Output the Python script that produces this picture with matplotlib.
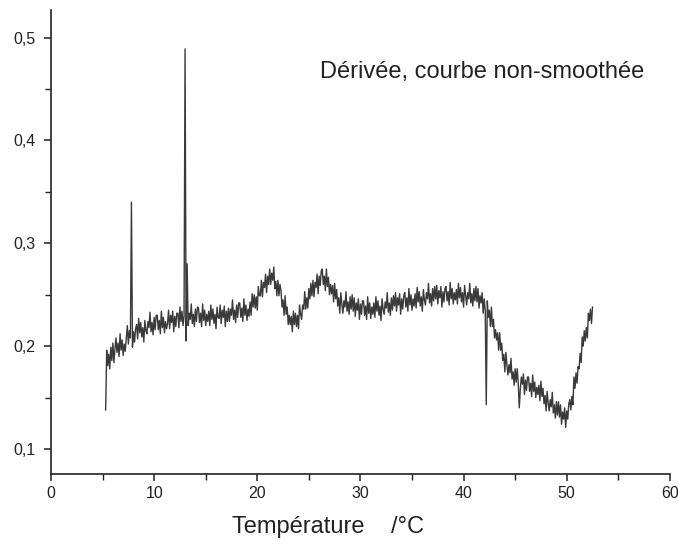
import numpy as np
import matplotlib
matplotlib.use("Agg")
import matplotlib.pyplot as plt
from matplotlib.ticker import MultipleLocator

# temperature grid: starts at 5.3 degC, one reading every 0.1 degC
t_start = 5.3
t_step = 0.1

# derivative readings (non-smoothed), one row = 1 degC
deriv = [
    0.138, 0.196, 0.181, 0.192, 0.178, 0.199, 0.186, 0.203, 0.184, 0.197,  # 5.3
    0.208, 0.194, 0.203, 0.190, 0.212, 0.196, 0.206, 0.191, 0.202, 0.195,  # 6.3
    0.207, 0.220, 0.202, 0.215, 0.208, 0.340, 0.199, 0.214, 0.204, 0.217,  # 7.3
    0.221, 0.207, 0.227, 0.213, 0.223, 0.209, 0.218, 0.204, 0.225, 0.215,  # 8.3
    0.212, 0.224, 0.218, 0.233, 0.214, 0.223, 0.211, 0.228, 0.216, 0.230,  # 9.3
    0.230, 0.216, 0.225, 0.212, 0.234, 0.218, 0.228, 0.213, 0.224, 0.217,  # 10.3
    0.222, 0.235, 0.217, 0.230, 0.223, 0.234, 0.214, 0.229, 0.219, 0.232,  # 11.3
    0.232, 0.218, 0.238, 0.224, 0.234, 0.220, 0.229, 0.489, 0.205, 0.280,  # 12.3
    0.220, 0.232, 0.226, 0.241, 0.222, 0.231, 0.219, 0.236, 0.224, 0.238,  # 13.3
    0.237, 0.223, 0.232, 0.219, 0.241, 0.225, 0.235, 0.220, 0.231, 0.224,  # 14.3
    0.234, 0.220, 0.240, 0.226, 0.236, 0.222, 0.231, 0.217, 0.238, 0.228,  # 15.3
    0.227, 0.240, 0.222, 0.235, 0.228, 0.239, 0.219, 0.234, 0.224, 0.237,  # 16.3
    0.224, 0.236, 0.230, 0.245, 0.226, 0.235, 0.223, 0.240, 0.228, 0.242,  # 17.3
    0.242, 0.228, 0.237, 0.224, 0.246, 0.230, 0.240, 0.225, 0.236, 0.229,  # 18.3
    0.243, 0.230, 0.251, 0.238, 0.250, 0.237, 0.248, 0.235, 0.258, 0.249,  # 19.3
    0.249, 0.264, 0.248, 0.262, 0.257, 0.270, 0.252, 0.268, 0.260, 0.275,  # 20.3
    0.260, 0.271, 0.264, 0.277, 0.256, 0.263, 0.249, 0.264, 0.249, 0.260,  # 21.3
    0.254, 0.238, 0.245, 0.230, 0.249, 0.231, 0.238, 0.221, 0.230, 0.221,  # 22.3
    0.229, 0.214, 0.234, 0.221, 0.232, 0.219, 0.230, 0.217, 0.240, 0.231,  # 23.3
    0.226, 0.240, 0.236, 0.253, 0.236, 0.247, 0.237, 0.256, 0.246, 0.261,  # 24.3
    0.249, 0.264, 0.248, 0.262, 0.257, 0.270, 0.251, 0.268, 0.259, 0.273,  # 25.3
    0.275, 0.260, 0.268, 0.254, 0.275, 0.258, 0.267, 0.250, 0.260, 0.251,  # 26.3
    0.259, 0.243, 0.261, 0.246, 0.255, 0.239, 0.247, 0.232, 0.252, 0.241,  # 27.3
    0.232, 0.244, 0.238, 0.253, 0.234, 0.243, 0.231, 0.248, 0.236, 0.250,  # 28.3
    0.234, 0.247, 0.229, 0.242, 0.235, 0.246, 0.226, 0.241, 0.231, 0.244,  # 29.3
    0.244, 0.230, 0.239, 0.226, 0.248, 0.232, 0.242, 0.227, 0.238, 0.231,  # 30.3
    0.242, 0.228, 0.248, 0.234, 0.244, 0.230, 0.239, 0.225, 0.246, 0.236,  # 31.3
    0.231, 0.243, 0.237, 0.252, 0.233, 0.242, 0.230, 0.247, 0.235, 0.249,  # 32.3
    0.239, 0.252, 0.234, 0.247, 0.240, 0.251, 0.231, 0.246, 0.236, 0.249,  # 33.3
    0.252, 0.238, 0.247, 0.234, 0.256, 0.240, 0.250, 0.235, 0.246, 0.239,  # 34.3
    0.251, 0.237, 0.257, 0.243, 0.253, 0.239, 0.248, 0.234, 0.255, 0.245,  # 35.3
    0.240, 0.252, 0.246, 0.261, 0.242, 0.251, 0.239, 0.256, 0.244, 0.258,  # 36.3
    0.246, 0.259, 0.241, 0.254, 0.247, 0.258, 0.238, 0.253, 0.243, 0.256,  # 37.3
    0.258, 0.244, 0.253, 0.240, 0.262, 0.246, 0.256, 0.241, 0.252, 0.245,  # 38.3
    0.255, 0.241, 0.261, 0.247, 0.257, 0.243, 0.252, 0.238, 0.259, 0.249,  # 39.3
    0.240, 0.252, 0.246, 0.261, 0.242, 0.251, 0.239, 0.256, 0.244, 0.258,  # 40.3
    0.243, 0.256, 0.237, 0.249, 0.242, 0.252, 0.232, 0.246, 0.235, 0.143,  # 41.3
    0.244, 0.228, 0.235, 0.219, 0.238, 0.219, 0.226, 0.208, 0.216, 0.206,  # 42.3
    0.213, 0.196, 0.213, 0.196, 0.203, 0.186, 0.192, 0.175, 0.194, 0.182,  # 43.3
    0.172, 0.182, 0.174, 0.188, 0.168, 0.175, 0.162, 0.178, 0.165, 0.178,  # 44.3
    0.164, 0.140, 0.158, 0.170, 0.163, 0.173, 0.153, 0.167, 0.157, 0.170,  # 45.3
    0.170, 0.156, 0.164, 0.151, 0.172, 0.156, 0.165, 0.150, 0.160, 0.153,  # 46.3
    0.162, 0.147, 0.166, 0.151, 0.159, 0.144, 0.152, 0.137, 0.156, 0.145,  # 47.3
    0.137, 0.148, 0.141, 0.155, 0.135, 0.143, 0.130, 0.146, 0.133, 0.146,  # 48.3
    0.131, 0.143, 0.124, 0.136, 0.129, 0.140, 0.121, 0.137, 0.129, 0.144,  # 49.3
    0.148, 0.138, 0.151, 0.143, 0.170, 0.159, 0.174, 0.164, 0.180, 0.178,  # 50.3
    0.193, 0.184, 0.209, 0.200, 0.215, 0.205, 0.218, 0.208, 0.232, 0.225,  # 51.3
    0.236, 0.222, 0.238,                                                   # 52.3
]

x_ticks = [0, 10, 20, 30, 40, 50, 60]
y_ticks = [0.1, 0.2, 0.3, 0.4, 0.5]
y_labels = ["0,1", "0,2", "0,3", "0,4", "0,5"]

temp = t_start + t_step * np.arange(len(deriv))

plt.rcParams["font.family"] = ["Liberation Sans", "DejaVu Sans"]

fig = plt.figure(figsize=(6.78, 5.47), dpi=100)
ax = fig.add_axes([0.0752, 0.1335, 0.9128, 0.8485])

ax.plot(temp, deriv, color="#3a3a3a", lw=1.0)

ax.set_xlim(0, 60)
ax.set_ylim(0.0757, 0.527)
ax.set_xticks(x_ticks)
ax.set_yticks(y_ticks)
ax.set_yticklabels(y_labels)
ax.xaxis.set_minor_locator(MultipleLocator(5))
ax.yaxis.set_minor_locator(MultipleLocator(0.05))
ax.tick_params(which="major", direction="out", length=5, width=1.1,
               labelsize=11.5, colors="#222222")
ax.tick_params(which="minor", direction="out", length=4, width=1.0,
               colors="#222222")
ax.tick_params(axis="y", pad=6)

for s in ["top", "right"]:
    ax.spines[s].set_visible(False)
for s in ["left", "bottom"]:
    ax.spines[s].set_color("#222222")
    ax.spines[s].set_linewidth(1.2)

fig.text(482 / 678, 1 - 72 / 547, "Dérivée, courbe non-smoothée",
         ha="center", va="center", fontsize=17, color="#222222")
fig.text(328 / 678, 1 - 527 / 547, "Température    /°C",
         ha="center", va="center", fontsize=17, color="#222222")

fig.savefig("out.png", dpi=100)
